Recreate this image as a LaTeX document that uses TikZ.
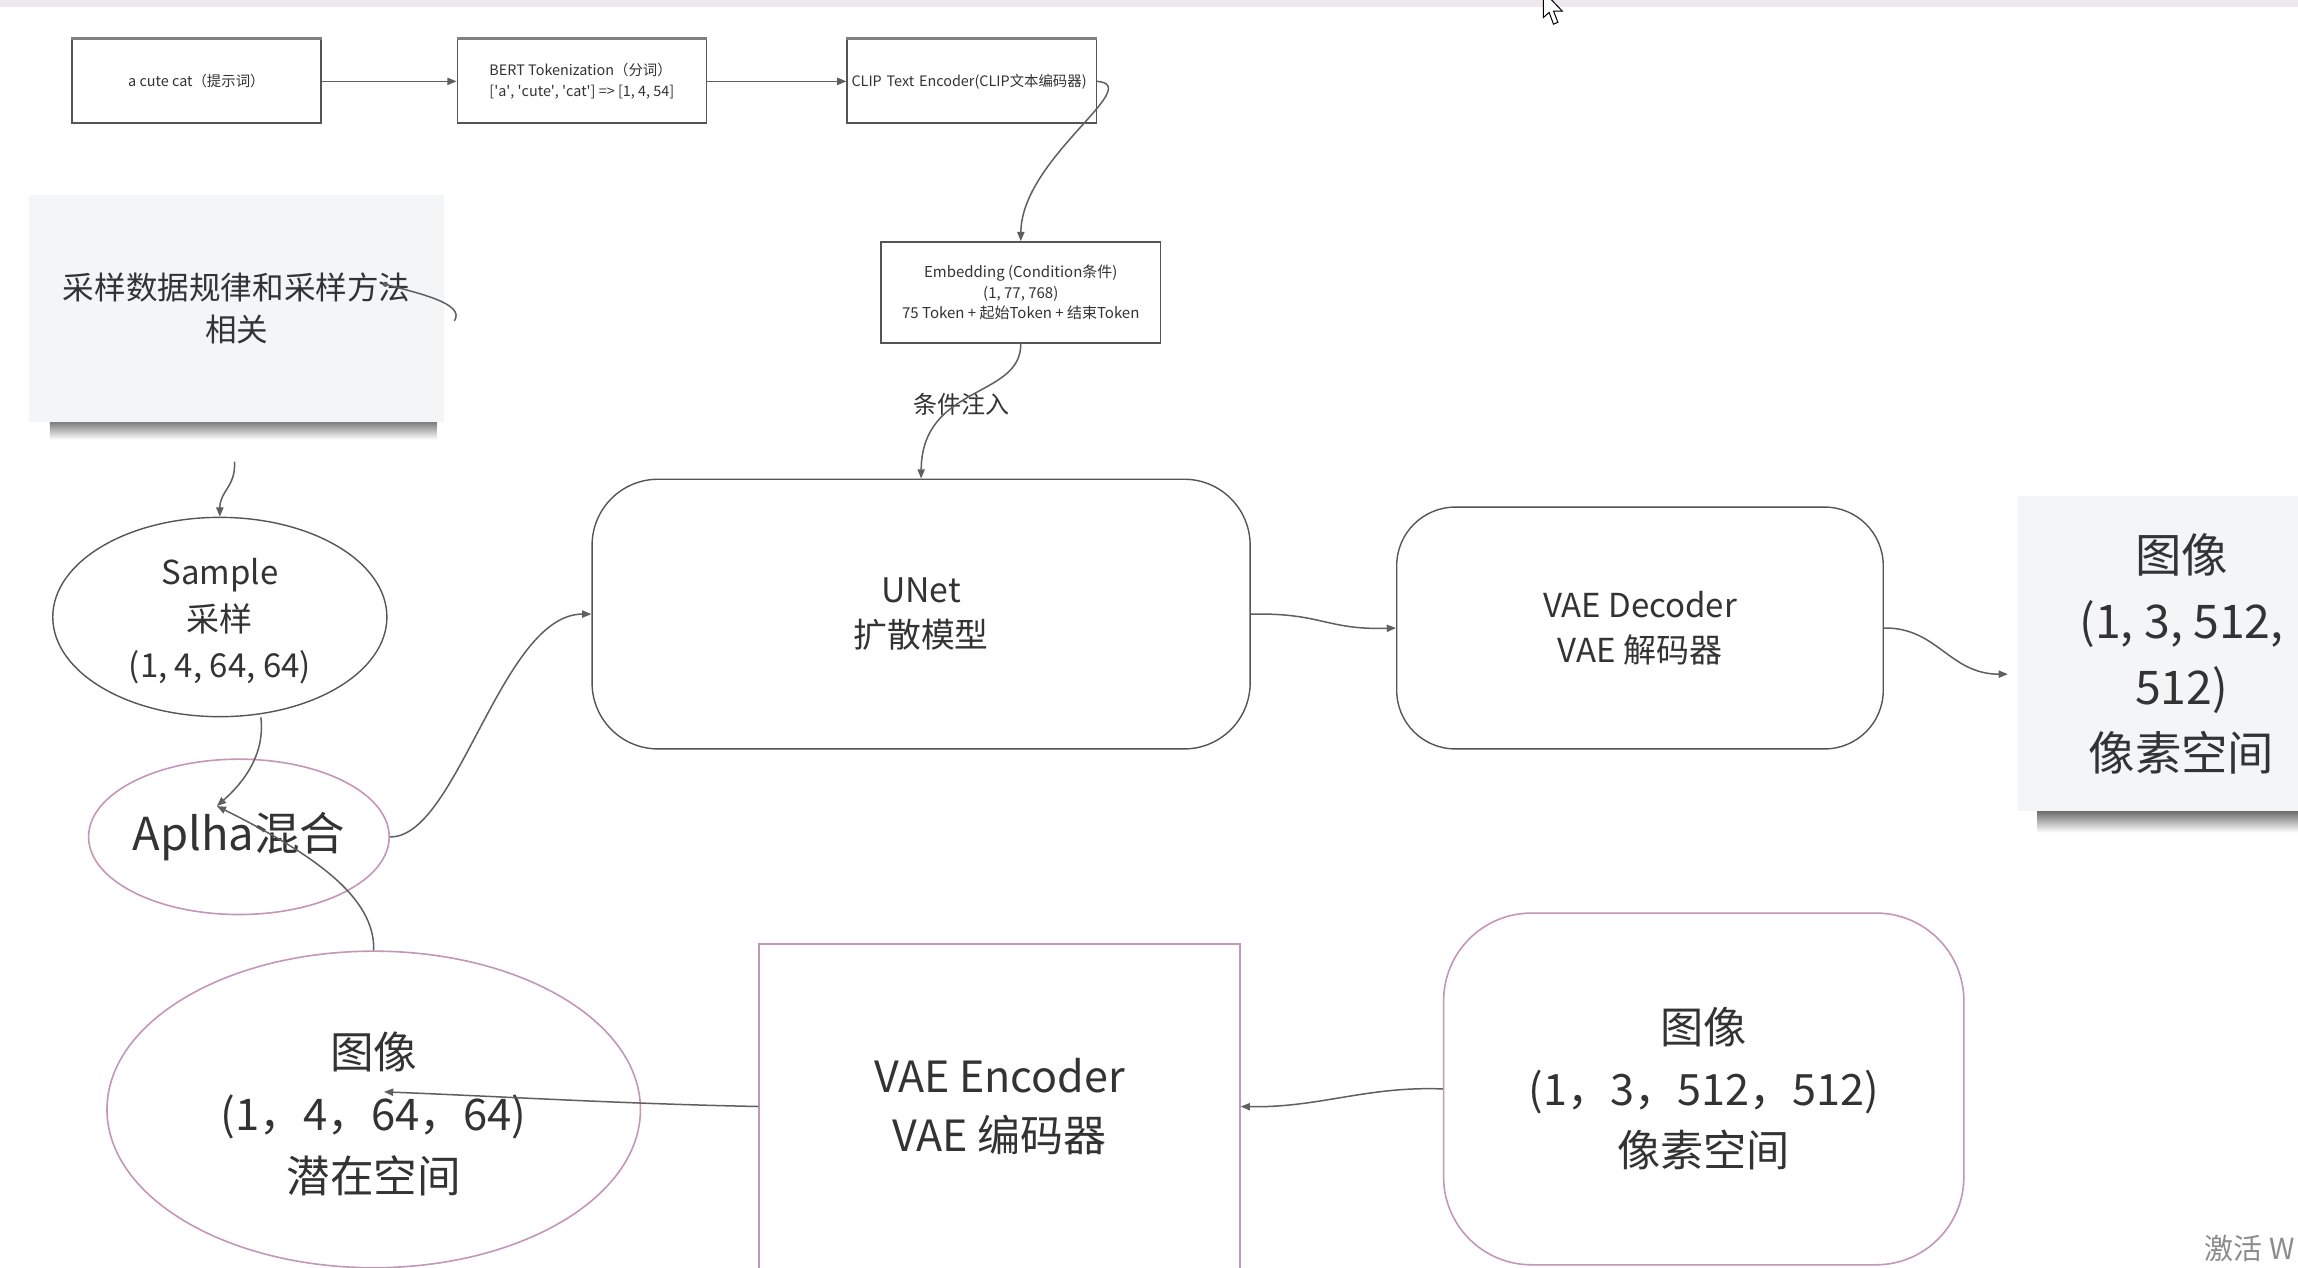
\documentclass[tikz,border=0pt]{standalone}
\usepackage{fontspec}
\setmainfont{Noto Sans CJK SC}
\usetikzlibrary{shapes.geometric,arrows.meta}
\def\pxu{0.7328pt}
\newcommand{\fsz}[2]{\fontsize{#1pt}{#2pt}\selectfont}
\newcommand{\sq}{\textquotesingle}
\definecolor{txtgrey}{RGB}{51,51,51}
\definecolor{boxgrey}{RGB}{85,85,85}
\definecolor{linegrey}{RGB}{95,95,95}
\definecolor{pinkline}{RGB}{196,150,184}
\definecolor{notefill}{RGB}{244,245,247}
\definecolor{stripgrey}{RGB}{236,232,236}

\begin{document}
\begin{tikzpicture}[x=0.7328pt,y=0.7328pt,yscale=-1,xscale=1,
  topbox/.style={draw=boxgrey,line width=0.7pt,minimum width=170*\pxu,minimum height=57*\pxu,inner sep=0pt,text=txtgrey,font=\fsz{7.2}{10.8}},
  roundbox/.style={draw=boxgrey,line width=0.7pt,inner sep=0pt,text=txtgrey,align=center},
  pinkshape/.style={draw=pinkline,line width=0.8pt,inner sep=0pt,text=txtgrey,align=center},
  notebox/.style={fill=notefill,inner sep=0pt,text=txtgrey,align=center},
  conn/.style={draw=linegrey,line width=0.75pt,-{Triangle[length=4.6pt,width=3.6pt]}}]
%uncomment if require: \path (0,865); %set diagram left start at 0, and has height of 865
\useasboundingbox (0,0) rectangle (1568,865);
\fill[white] (0,0) rectangle (1568,865);

%Shape: Top Strip
\fill[stripgrey] (0,0) rectangle (1568,4.5);
%Shape: Cursor
\draw[black,fill=white,line width=0.5pt] (1053,-6) -- (1053,12) -- (1057,8.5) -- (1060,16.5) -- (1063,15.2) -- (1060,7.6) -- (1066,7.6) -- cycle;

%Shape: Rectangle [prompt]
\node[topbox] (prompt) at (134,55.5) {a cute cat（提示词）};
%Shape: Rectangle [bert]
\node[topbox,align=left] (bert) at (397,55.5) {BERT Tokenization（分词）\\{}[\sq a\sq, \sq cute\sq, \sq cat\sq] => [1, 4, 54]};
%Shape: Rectangle [clip]
\node[topbox,text width=164*\pxu,align=left] (clip) at (663,55.5) {CLIP Text Encoder(CLIP文本编码器)};
%Shape: Rectangle [emb]
\node[topbox,minimum width=191*\pxu,minimum height=69*\pxu,align=center,font=\fsz{7.5}{10.3}] (emb) at (696.5,199.5) {Embedding (Condition条件)\\(1, 77, 768)\\75 Token + 起始Token + 结束Token};
%Top Edges
\foreach \b in {prompt,bert,clip}
  \draw[boxgrey!75,line width=1.4pt] (\b.north west) -- (\b.north east);

%Shape: Note Shadows
\shade[top color=black!55,bottom color=white] (34,287) rectangle (298,300);
\shade[top color=black!55,bottom color=white] (1390,554) rectangle (1568,568);
%Shape: Note [rule]
\node[notebox,minimum width=283*\pxu,minimum height=155*\pxu,font=\fsz{15.8}{21.3}] (rule) at (161.5,210.5) {采样数据规律和采样方法\\相关};
%Shape: Note [pixout]
\node[notebox,minimum width=223*\pxu,minimum height=215*\pxu,font=\fsz{23.2}{33}] (pixout) at (1488.5,446) {图像\\(1, 3, 512,\\512)\\像素空间};

%Shape: Ellipse [sample]
\node[ellipse,roundbox,minimum width=228*\pxu,minimum height=136*\pxu,font=\fsz{16.5}{23.4}] (sample) at (150,421) {\\[-6pt]Sample\\采样\\(1, 4, 64, 64)};
%Shape: Ellipse [alpha]
\node[ellipse,pinkshape,minimum width=200*\pxu,minimum height=106*\pxu,font=\fsz{22.7}{28}] (alpha) at (163,571) {Aplha混合};
%Shape: Ellipse [latent]
\node[ellipse,pinkshape,minimum width=364*\pxu,minimum height=216*\pxu,font=\fsz{21.8}{30.8}] (latent) at (255,757) {\\[-8pt]图像\\(1，4，64，64)\\潜在空间};

%Rounded Rect [unet]
\node[roundbox,rounded corners=45*\pxu,minimum width=449*\pxu,minimum height=184*\pxu,font=\fsz{16.9}{22.7}] (unet) at (628.5,419) {UNet\\扩散模型};
%Rounded Rect [dec]
\node[roundbox,rounded corners=40*\pxu,minimum width=332*\pxu,minimum height=165*\pxu,font=\fsz{16.5}{22.7}] (dec) at (1119,428.5) {VAE Decoder\\VAE 解码器};
%Shape: Rectangle [enc]
\node[pinkshape,minimum width=328*\pxu,minimum height=222*\pxu,font=\fsz{21.5}{29.3}] (enc) at (682,755) {VAE Encoder\\VAE 编码器};
%Rounded Rect [pix]
\node[pinkshape,rounded corners=60*\pxu,minimum width=355*\pxu,minimum height=240*\pxu,font=\fsz{21.6}{30.8}] (pix) at (1162.5,743) {图像\\(1，3，512，512)\\像素空间};

% Text Node
\node[text=txtgrey,font=\fsz{12}{14},inner sep=1pt] (inject) at (656,276) {条件注入};
% Text Node
\node[anchor=east,text=black!45,font=\fsz{14.5}{16},inner sep=0pt] (wm) at (1566,852) {激活 W};

%Free Ends
\coordinate (hooka) at (263,194);
\coordinate (hookb) at (310,219);
\coordinate (notestart) at (160,315);
\coordinate (mixin) at (148,550);
\coordinate (latin) at (262,745);
\coordinate (imgin) at (1370,460);

%Straight Lines
\draw[conn] (prompt.east) -- (bert.west);
\draw[conn] (bert.east) -- (clip.west);
%Curve Lines
\draw[conn] (clip.east) .. controls (782,58) and (697,108) .. (emb.north);
\draw[conn] (emb.south) .. controls (697,272) and (629,262) .. (unet.north);
\draw[conn] (alpha.east) .. controls (312,572) and (342,419) .. (unet.west);
\draw[conn] (unet.east) .. controls (902,418) and (905,430) .. (dec.west);
\draw[conn] (dec.east) .. controls (1322,428) and (1330,460) .. (imgin);
\draw[conn] (notestart) .. controls (161,332) and (150,335) .. (sample.north);
\draw[conn] ([xshift=28*\pxu]sample.south) .. controls (181,515) and (166,534) .. (mixin);
\draw[conn] (latent.north) .. controls (256,612) and (214,583) .. (mixin);
\draw[conn] (enc.west) .. controls (420,753) and (340,748) .. (latin);
\draw[conn] (pix.west) .. controls (932,741) and (900,756) .. (enc.east);
%Hook Line
\fill[linegrey] (hooka) circle [radius=1.8];
\draw[linegrey,line width=0.75pt] (hooka) .. controls (285,200) and (318,207) .. (hookb);

\end{tikzpicture}
\end{document}
